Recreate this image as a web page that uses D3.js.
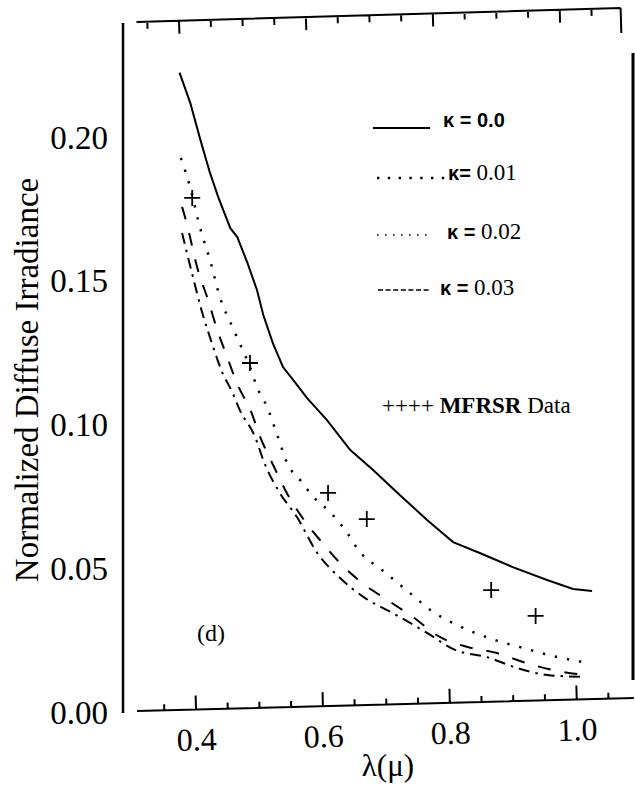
<!DOCTYPE html>
<html lang="en">
<head>
<meta charset="UTF-8">
<title>Normalized Diffuse Irradiance</title>
<script src="https://d3js.org/d3.v7.min.js"></script>
<style>
  body { margin: 0; background: #fff; }
  svg { display: block; }
  .serif { font-family: "Liberation Serif", "Times New Roman", serif; }
  .sans { font-family: "Liberation Sans", Arial, sans-serif; font-weight: bold; }
</style>
</head>
<body>
<svg width="635" height="790"></svg>
<script>
// kappa = 0.0 (solid)
const k00 = [[0.374,0.2224],[0.391,0.2118],[0.406,0.1997],[0.422,0.1875],[0.435,0.1791],
  [0.454,0.1683],[0.465,0.1652],[0.481,0.1562],[0.496,0.1468],[0.506,0.1381],[0.521,0.1283],
  [0.537,0.1200],[0.553,0.1155],[0.575,0.1092],[0.606,0.1016],[0.643,0.0911],[0.679,0.0842],
  [0.721,0.0755],[0.764,0.0668],[0.805,0.0591],[0.847,0.0553],[0.899,0.0504],[0.953,0.0459],
  [0.994,0.0428],[1.024,0.0421]];
// kappa = 0.01 (dotted)
const k01 = [[0.376,0.1927],[0.391,0.1823],[0.406,0.1687],[0.422,0.1572],[0.438,0.1440],
  [0.458,0.1336],[0.472,0.1266],[0.485,0.1200],[0.496,0.1130],[0.512,0.1061],[0.528,0.0963],
  [0.545,0.0859],[0.564,0.0807],[0.585,0.0748],[0.611,0.0696],[0.635,0.0633],[0.658,0.0557],
  [0.693,0.0494],[0.737,0.0414],[0.769,0.0355],[0.811,0.0303],[0.866,0.0254],[0.915,0.0223],
  [0.962,0.0195],[1.008,0.0174]];
// kappa = 0.02 (dashed)
const k02 = [[0.378,0.1757],[0.384,0.1711],[0.403,0.1537],[0.419,0.1433],[0.433,0.1332],
  [0.449,0.1235],[0.465,0.1141],[0.487,0.1043],[0.501,0.0957],[0.523,0.0852],[0.543,0.0762],
  [0.570,0.0668],[0.598,0.0591],[0.630,0.0511],[0.666,0.0442],[0.701,0.0390],[0.742,0.0330],
  [0.784,0.0261],[0.828,0.0226],[0.874,0.0205],[0.915,0.0174],[0.962,0.0146],[1.013,0.0129]];
// kappa = 0.03 (dash-dot)
const k03 = [[0.378,0.1666],[0.394,0.1523],[0.409,0.1395],[0.425,0.1283],[0.441,0.1183],
  [0.457,0.1113],[0.469,0.1050],[0.493,0.0957],[0.507,0.0870],[0.532,0.0762],[0.559,0.0678],
  [0.591,0.0553],[0.625,0.0470],[0.666,0.0397],[0.710,0.0344],[0.764,0.0275],[0.808,0.0216],
  [0.858,0.0191],[0.906,0.0153],[0.953,0.0129],[1.009,0.0122]];
// MFRSR measurements
const mfrsr = [[0.394,0.1788],[0.485,0.1214],[0.608,0.0762],[0.669,0.0671],[0.865,0.0424],[0.935,0.0334]];

const xMajor = [0.4, 0.6, 0.8, 1.0];
const xMinor = [0.35, 0.45, 0.5, 0.55, 0.65, 0.7, 0.75, 0.85, 0.9, 0.95, 1.05];
const xTickLabels = ["0.4", "0.6", "0.8", "1.0"];
const yTicks = [0.00, 0.05, 0.10, 0.15, 0.20];
const yTickLabels = ["0.00", "0.05", "0.10", "0.15", "0.20"];

const svg = d3.select("svg");

const x = d3.scaleLinear().domain([0.307, 1.09]).range([137, 634]);
const y = d3.scaleLinear().domain([0, 0.2]).range([712, 137]);
// the scanned top axis sits a little left of the bottom one
const xTop = d3.scaleLinear().domain([0.333, 1.096]).range([x(0.333) - 17, x(1.096) - 17]);

// frame lines
svg.append("path").attr("d", "M123,23V713").attr("stroke", "#000").attr("stroke-width", 2.5);
svg.append("path").attr("d", "M633,53V680").attr("stroke", "#000").attr("stroke-width", 3);

// tick path helper: baseline plus vertical ticks of the given lengths
const tickPath = (scale, minorLen, majorLen) => {
  const [r0, r1] = scale.range();
  let d = `M${r0},0H${r1}`;
  xMinor.forEach(v => { if (v >= scale.domain()[0] && v <= scale.domain()[1]) d += `M${scale(v)},0V${minorLen}`; });
  xMajor.forEach(v => { d += `M${scale(v)},0V${majorLen}`; });
  return d;
};

// bottom axis (slightly tilted like the scan), ticks pointing up
const gx = svg.append("g").attr("transform", "rotate(-1.5 137 711) translate(0 711)");
gx.append("path").attr("d", tickPath(x, -6, -14))
  .attr("fill", "none").attr("stroke", "#000").attr("stroke-width", 2);
gx.selectAll(".xlab").data(xMajor).join("text").attr("class", "xlab serif")
  .attr("font-size", 32).attr("text-anchor", "middle")
  .attr("x", d => x(d)).attr("y", 41).text((d, i) => xTickLabels[i]);

// top axis, ticks pointing down
const gt = svg.append("g").attr("transform", "rotate(-1.65 136.5 22) translate(0 22)");
gt.append("path").attr("d", tickPath(xTop, 7, 13) + `M${xTop.range()[1]},0V25`)
  .attr("fill", "none").attr("stroke", "#000").attr("stroke-width", 2);

// left axis labels
svg.append("g").selectAll("text").data(yTicks).join("text")
  .attr("class", "serif").attr("font-size", 33).attr("text-anchor", "end")
  .attr("x", 108).attr("y", d => y(d)).attr("dy", "0.35em")
  .text((d, i) => yTickLabels[i]);

// axis titles
svg.append("text").attr("class", "serif").attr("font-size", 33)
  .attr("text-anchor", "middle").attr("transform", "translate(38,380) rotate(-90)")
  .text("Normalized Diffuse Irradiance");
svg.append("text").attr("class", "serif").attr("font-size", 31)
  .attr("text-anchor", "middle").attr("x", 388).attr("y", 776).text("λ(μ)");
svg.append("text").attr("class", "serif").attr("font-size", 24)
  .attr("text-anchor", "middle").attr("x", 211).attr("y", 641).text("(d)");

// curves
const line = d3.line().x(d => x(d[0])).y(d => y(d[1]));
const smooth = d3.line().x(d => x(d[0])).y(d => y(d[1])).curve(d3.curveMonotoneX);

svg.append("path").datum(k00).attr("d", line)
  .attr("fill", "none").attr("stroke", "#000").attr("stroke-width", 2);
svg.append("path").datum(k01).attr("d", smooth)
  .attr("fill", "none").attr("stroke", "#000").attr("stroke-width", 2.5).attr("stroke-dasharray", "2.3,10");
svg.append("path").datum(k02).attr("d", smooth)
  .attr("fill", "none").attr("stroke", "#000").attr("stroke-width", 2).attr("stroke-dasharray", "13,14");
svg.append("path").datum(k03).attr("d", smooth)
  .attr("fill", "none").attr("stroke", "#000").attr("stroke-width", 2).attr("stroke-dasharray", "11,6,2.5,6");

// MFRSR crosses
svg.selectAll(".cross").data(mfrsr).join("path")
  .attr("class", "cross")
  .attr("transform", d => `translate(${x(d[0])},${y(d[1])})`)
  .attr("d", "M-8,0H8M0,-8V8")
  .attr("stroke", "#000").attr("stroke-width", 1.8).attr("fill", "none");

// legend
const legend = [
  { x1: 373, x2: 430, y: 128, dash: null, w: 2, tx: 443, ty: 127, a: "κ = 0.0", b: "" },
  { x1: 377, x2: 447, y: 178, dash: "2.4,8.4", w: 2.4, tx: 448, ty: 180, a: "κ=", b: " 0.01" },
  { x1: 377, x2: 427, y: 235, dash: "1.5,6.5", w: 1.6, tx: 447, ty: 239, a: "κ = ", b: "0.02" },
  { x1: 378, x2: 430, y: 290, dash: "5,2.6", w: 1.6, tx: 440, ty: 295, a: "κ = ", b: "0.03" }
];
const lg = svg.append("g");
legend.forEach(d => {
  lg.append("line").attr("x1", d.x1).attr("x2", d.x2).attr("y1", d.y).attr("y2", d.y)
    .attr("stroke", "#000").attr("stroke-width", d.w).attr("stroke-dasharray", d.dash);
  const t = lg.append("text").attr("x", d.tx).attr("y", d.ty).attr("font-size", 20);
  t.append("tspan").attr("class", "sans").text(d.a);
  if (d.b) t.append("tspan").attr("class", "serif").attr("font-size", 23).text(d.b);
});
const mt = lg.append("text").attr("x", 382).attr("y", 413).attr("class", "serif").attr("font-size", 23);
mt.append("tspan").text("++++ ");
mt.append("tspan").attr("font-weight", "bold").text("MFRSR");
mt.append("tspan").text(" Data");
</script>
</body>
</html>
